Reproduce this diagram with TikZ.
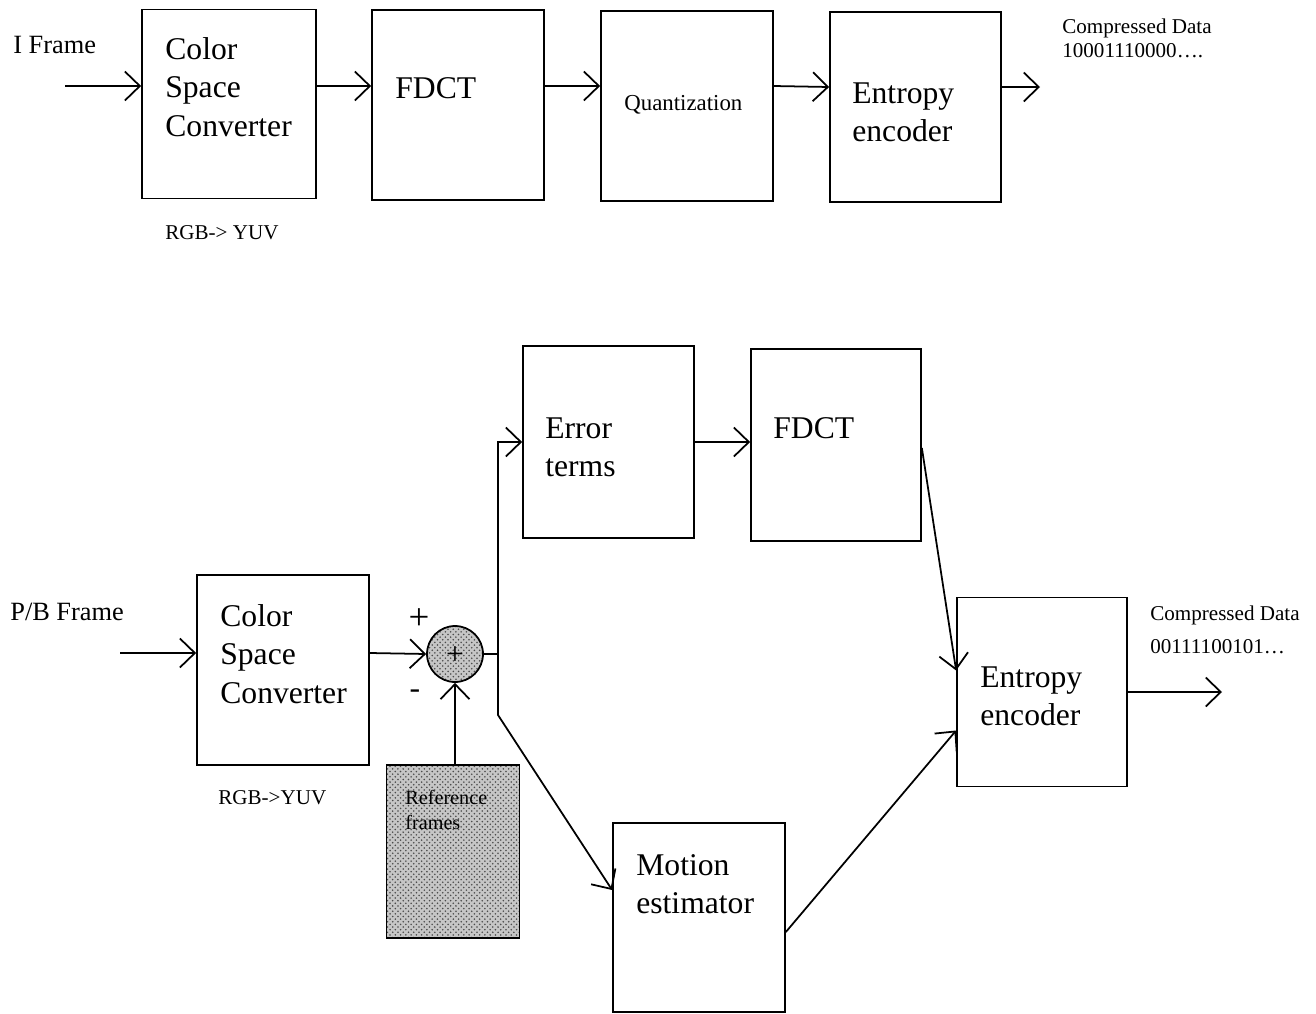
\documentclass[tikz,border=0pt]{standalone}
\usepackage{fontspec}
\setmainfont{Liberation Serif}
\usetikzlibrary{arrows.meta,patterns}

\begin{document}
\begin{tikzpicture}[
  x=0.02cm, y=-0.02cm,
  blk/.style={draw, line width=1pt, minimum width=3.44cm, minimum height=3.8cm, inner sep=0pt},
  dotfill/.style={draw, line width=1pt, preaction={fill=gray!45}, pattern=crosshatch dots, pattern color=gray!60!black},
  arr/.style={-{Straight Barb[length=0.3cm, width=0.58cm]}, line width=1pt},
  wire/.style={line width=1pt},
  bigtxt/.style={font=\fontsize{18}{21.8}\selectfont, align=left, anchor=west, inner sep=0pt},
  midtxt/.style={font=\fontsize{15}{18}\selectfont, align=left, anchor=west, inner sep=0pt},
  smalltxt/.style={font=\fontsize{12}{14}\selectfont, align=left, anchor=west, inner sep=0pt},
  signtxt/.style={font=\fontsize{21}{23}\selectfont, inner sep=0pt}
]
\useasboundingbox (0,0) rectangle (1316,1014);

% I frame path
\node[blk, minimum width=3.48cm, minimum height=3.78cm] (csc1) at (229,104) {};
\node[blk] (fdct1) at (458,105) {};
\node[blk] (quant) at (687,106) {};
\node[blk, minimum width=3.42cm] (ent1) at (915.5,107) {};
\coordinate (iin) at (65,86);
\coordinate (iout) at (1040,87);

\node[midtxt] (iframe) at (13,45) {I Frame};
\node[bigtxt] (csc1txt) at (165,87) {Color\\Space\\Converter};
\node[bigtxt] (fdct1txt) at (395,88) {FDCT};
\node[bigtxt, font=\fontsize{13}{15}\selectfont] (quanttxt) at (624,105) {Quantization};
\node[bigtxt] (ent1txt) at (852,112) {Entropy\\encoder};
\node[smalltxt] (rgb1) at (165,233) {RGB-> YUV};
\node[smalltxt, font=\fontsize{12}{13.8}\selectfont] (out1) at (1062,38) {Compressed Data\\10001110000….};

\draw[arr] (iin) -- ([yshift=0.36cm]csc1.west);
\draw[arr] ([yshift=0.36cm]csc1.east) -- ([yshift=0.38cm]fdct1.west);
\draw[arr] ([yshift=0.38cm]fdct1.east) -- ([yshift=0.4cm]quant.west);
\draw[arr] ([yshift=0.4cm]quant.east) -- ([yshift=0.4cm]ent1.west);
\draw[arr] ([yshift=0.4cm]ent1.east) -- (iout);

% P/B frame path
\node[blk] (csc2) at (283,670) {};
\node[draw, circle, dotfill, minimum size=1.12cm, inner sep=0pt] (sum) at (455,654) {};
\node[signtxt, font=\fontsize{18}{20}\selectfont] (sumplus) at ([yshift=-0.04cm]sum.center) {+};
\node[draw, dotfill, minimum width=2.66cm, minimum height=3.46cm, inner sep=0pt] (ref) at (453,851.5) {};
\node[blk, minimum width=3.42cm, minimum height=3.84cm] (err) at (608.5,442) {};
\node[blk, minimum width=3.4cm, minimum height=3.84cm] (fdct2) at (836,445) {};
\node[blk, minimum width=3.4cm, minimum height=3.78cm] (ent2) at (1042,692) {};
\node[blk, minimum width=3.44cm, minimum height=3.78cm] (mot) at (699,917.5) {};
\coordinate (pbin) at (120,653);
\coordinate (pbout) at (1222,692);
\coordinate (split) at (498,654);
\coordinate (splittop) at (498,442);
\coordinate (splitbot) at (498,715);

\node[midtxt] (pbframe) at (10,612) {P/B Frame};
\node[bigtxt] (csc2txt) at (220,654) {Color\\Space\\Converter};
\node[smalltxt] (rgb2) at (218,798) {RGB->YUV};
\node[signtxt] (plus) at (419,619) {+};
\node[signtxt, font=\fontsize{18}{20}\selectfont] (minus) at (415,694) {-};
\node[smalltxt, font=\fontsize{11.5}{13.8}\selectfont] (reftxt) at (405,810) {Reference\\frames};
\node[bigtxt] (errtxt) at (545,447) {Error\\terms};
\node[bigtxt] (fdct2txt) at (773,428) {FDCT};
\node[bigtxt] (ent2txt) at (980,696) {Entropy\\encoder};
\node[bigtxt] (mottxt) at (636,884) {Motion\\estimator};
\node[smalltxt] (out2) at (1150,630) {Compressed Data\\[5pt]00111100101…};

\draw[arr] (pbin) -- ([yshift=0.34cm]csc2.west);
\draw[arr] ([yshift=0.34cm]csc2.east) -- (sum.west);
\draw[arr] (ref.north -| sum.south) -- (sum.south);
\draw[wire] (sum.east) -- (split);
\draw[arr] (splitbot) -- (splittop) -- (err.west);
\draw[arr] (split) -- (splitbot) -- ([yshift=0.55cm]mot.west);
\draw[arr] (err.east) -- (fdct2.west |- err.east);
\draw[arr] ([yshift=-0.06cm]fdct2.east) -- ([yshift=0.43cm]ent2.west);
\draw[arr] ([yshift=-0.29cm]mot.east) -- ([yshift=-0.77cm]ent2.west);
\draw[arr] (ent2.east) -- (pbout);
\end{tikzpicture}
\end{document}
